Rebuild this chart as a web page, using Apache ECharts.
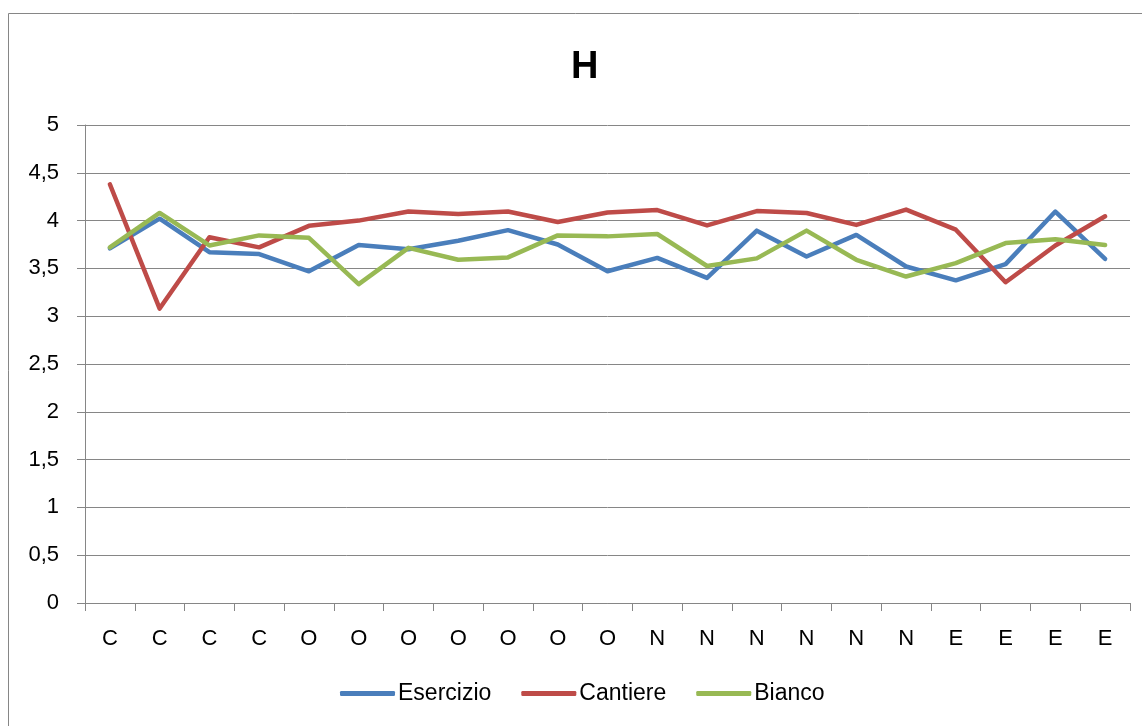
<!DOCTYPE html>
<html>
<head>
<meta charset="utf-8">
<script src="https://cdn.jsdelivr.net/npm/echarts@6/dist/echarts.min.js"></script>
<style>
html,body{margin:0;padding:0;background:#fff;}
#c{width:1142px;height:726px;}
</style>
</head>
<body>
<div id="c"></div>
<script>
const categories = ['C','C','C','C','O','O','O','O','O','O','O','N','N','N','N','N','N','E','E','E','E'];
const esercizio = [3.71,4.02,3.67,3.65,3.47,3.745,3.70,3.79,3.90,3.75,3.47,3.61,3.40,3.895,3.625,3.85,3.52,3.375,3.545,4.095,3.60];
const cantiere  = [4.38,3.08,3.825,3.72,3.945,4.00,4.095,4.07,4.095,3.985,4.085,4.11,3.95,4.10,4.08,3.955,4.115,3.905,3.355,3.74,4.045];
const bianco    = [3.72,4.08,3.74,3.845,3.82,3.335,3.715,3.59,3.615,3.845,3.835,3.86,3.525,3.605,3.895,3.59,3.415,3.555,3.765,3.805,3.745];
const yTicks = [0,0.5,1,1.5,2,2.5,3,3.5,4,4.5,5];

const FONT = 'Liberation Sans';
const GRAY = '#868686';
const chart = echarts.init(document.getElementById('c'), null, {renderer:'canvas'});
function mk(name, data, color){
  return {name, type:'line', data, symbol:'none', showSymbol:false,
    lineStyle:{color, width:4.5, cap:'round', join:'round'}, itemStyle:{color}, z:3};
}
chart.setOption({
  animation:false,
  backgroundColor:'#fff',
  textStyle:{fontFamily:FONT},
  title:{text:'H', left:566, top:44, textStyle:{fontFamily:FONT, fontWeight:'bold', fontSize:38, color:'#000'}},
  grid:{left:85, right:12, top:125, bottom:123, containLabel:false},
  legend:{bottom:16, left:335, icon:'roundRect', itemWidth:55, itemHeight:5, itemGap:30,
    textStyle:{fontFamily:FONT, fontSize:23, color:'#000', padding:[0,0,0,-2]},
    data:['Esercizio','Cantiere','Bianco']},
  xAxis:{type:'category', data:categories, boundaryGap:true,
    axisLine:{lineStyle:{color:GRAY, width:1}},
    axisTick:{show:true, interval:0, length:8, lineStyle:{color:GRAY}},
    axisLabel:{interval:0, color:'#000', fontSize:22, fontFamily:FONT, margin:25},
    splitLine:{show:false}},
  yAxis:{type:'value', min:0, max:5, interval:0.5,
    axisLine:{show:true, lineStyle:{color:GRAY, width:1}},
    axisTick:{show:true, length:8, lineStyle:{color:GRAY}},
    axisLabel:{color:'#000', fontSize:22, fontFamily:FONT, margin:26,
      formatter:v=>{const t=yTicks.find(x=>Math.abs(x-v)<1e-9); return String(t!==undefined?t:v).replace('.',',');}},
    splitLine:{show:true, lineStyle:{color:GRAY, width:1}}},
  graphic:[{type:'rect', shape:{x:8.5, y:13.5, width:1200, height:800}, style:{fill:null, stroke:GRAY, lineWidth:1}, silent:true, z:-1}],
  series:[mk('Esercizio', esercizio, '#4A7EBB'), mk('Cantiere', cantiere, '#BE4B48'), mk('Bianco', bianco, '#98B954')]
});
</script>
</body>
</html>
